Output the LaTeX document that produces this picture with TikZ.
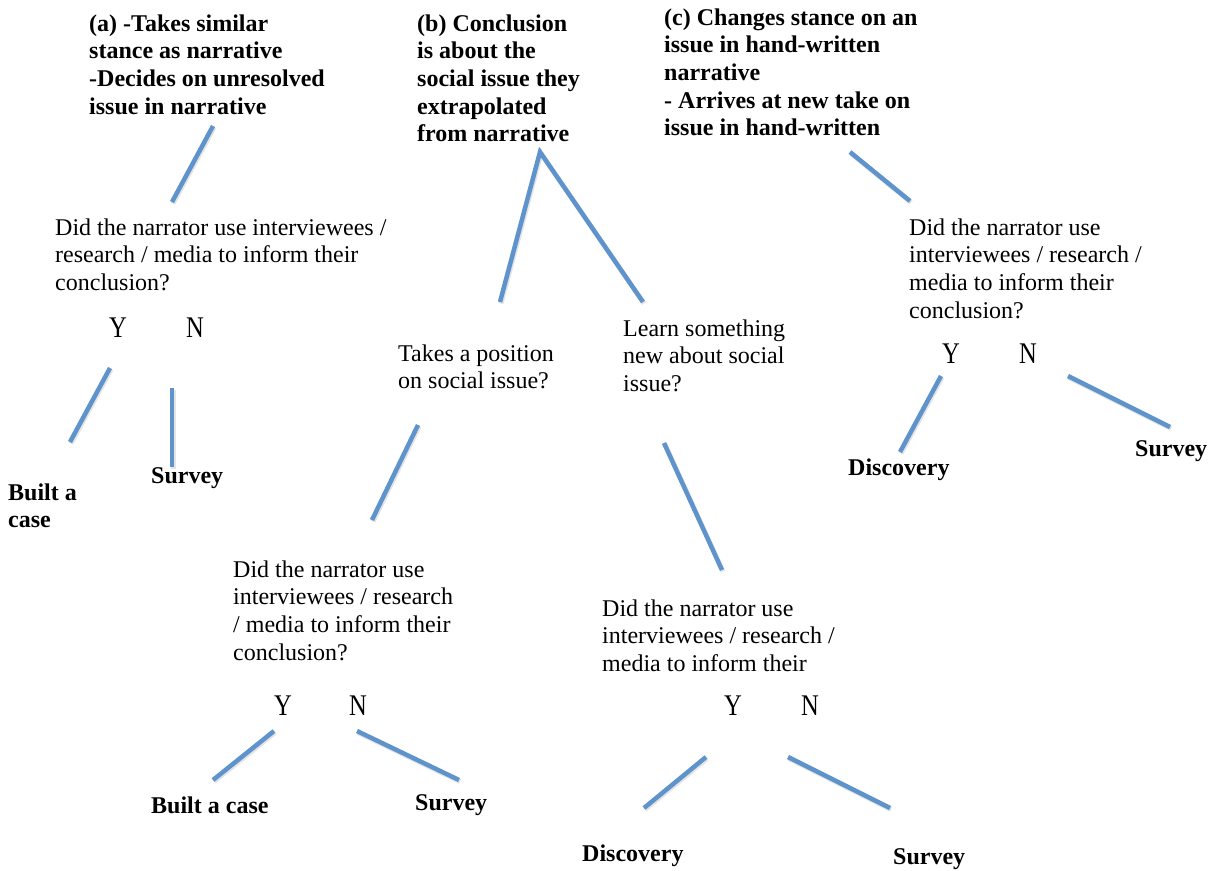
\documentclass[tikz,border=0pt]{standalone}
\usepackage{fontspec}
\usepackage{graphicx}
\setmainfont{Liberation Serif}
\definecolor{lineblue}{RGB}{94,147,204}
\newcommand{\ynletter}[1]{\scalebox{0.82}[1]{#1}}
\tikzset{
  conn/.style={draw=lineblue, line width=4.5pt,
    preaction={draw=black!30, opacity=0.35, line width=5pt,
      transform canvas={shift={(1pt,-1.5pt)}}}},
  q/.style={anchor=north west, inner sep=0pt, align=left, yshift=-2.5pt,
    font=\fontsize{24}{27.6}\selectfont},
  hd/.style={anchor=north west, inner sep=0pt, align=left, yshift=-2.5pt,
    font=\fontsize{24}{27.6}\selectfont\bfseries},
  yn/.style={inner sep=0pt, font=\fontsize{30}{33}\selectfont},
}
\begin{document}
\begin{tikzpicture}[x=1pt,y=-1pt]
\useasboundingbox (0,0) rectangle (1212,870);

% headers
\node[hd] (ha) at (89,12) {(a) -Takes similar\\stance as narrative\\-Decides on unresolved\\issue in narrative};
\node[hd] (hb) at (417,12) {(b) Conclusion\\is about the\\social issue they\\extrapolated\\from narrative};
\node[hd] (hc) at (664,6) {(c) Changes stance on an\\issue in hand-written\\narrative\\- Arrives at new take on\\issue in hand-written};

% left branch
\node[q] (qa) at (55,216) {Did the narrator use interviewees /\\research / media to inform their\\conclusion?};
\node[yn] (ya) at (118,328) {\ynletter{Y}};
\node[yn] (na) at (195,328) {\ynletter{N}};
\node[hd] (la1) at (8,481) {Built a\\case};
\node[hd] (la2) at (151,465) {Survey};

% middle branch
\node[q] (tb) at (398,342) {Takes a position\\on social issue?};
\node[q] (lb) at (623,317) {Learn something\\new about social\\issue?};
\node[q] (qb1) at (233,558) {Did the narrator use\\interviewees / research\\/ media to inform their\\conclusion?};
\node[yn] (yb1) at (283,706) {\ynletter{Y}};
\node[yn] (nb1) at (358,706) {\ynletter{N}};
\node[hd] (lb1) at (151,794) {Built a case};
\node[hd] (lb2) at (415,792) {Survey};
\node[q] (qb2) at (602,597) {Did the narrator use\\interviewees / research /\\media to inform their};
\node[yn] (yb2) at (733,706) {\ynletter{Y}};
\node[yn] (nb2) at (810,706) {\ynletter{N}};
\node[hd] (lb3) at (582,842) {Discovery};
\node[hd] (lb4) at (893,846) {Survey};

% right branch
\node[q] (qc) at (909,216) {Did the narrator use\\interviewees / research /\\media to inform their\\conclusion?};
\node[yn] (yc) at (951,354) {\ynletter{Y}};
\node[yn] (nc) at (1028,354) {\ynletter{N}};
\node[hd] (lc1) at (848,456) {Discovery};
\node[hd] (lc2) at (1135,438) {Survey};

% connector end points
\coordinate (a0) at (213,126);  \coordinate (a1) at (172,202);
\coordinate (ay0) at (110,368); \coordinate (ay1) at (70,442);
\coordinate (an0) at (172,388); \coordinate (an1) at (172,467);
\coordinate (b0) at (540,152);  \coordinate (b1) at (500,302);
\coordinate (b2) at (643,302);
\coordinate (t0) at (418,425);  \coordinate (t1) at (372,520);
\coordinate (by0) at (274,731); \coordinate (by1) at (213,780);
\coordinate (bn0) at (357,731); \coordinate (bn1) at (459,780);
\coordinate (l0) at (664,443);  \coordinate (l1) at (722,570);
\coordinate (cy0) at (706,757); \coordinate (cy1) at (644,808);
\coordinate (cn0) at (788,757); \coordinate (cn1) at (890,808);
\coordinate (c0) at (850,152);  \coordinate (c1) at (910,201);
\coordinate (ry0) at (941,376); \coordinate (ry1) at (900,452);
\coordinate (rn0) at (1068,376); \coordinate (rn1) at (1170,427);

\draw[conn] (a0) -- (a1);
\draw[conn] (ay0) -- (ay1);
\draw[conn] (an0) -- (an1);
\draw[conn] (b1) -- (b0) -- (b2);
\draw[conn] (t0) -- (t1);
\draw[conn] (by0) -- (by1);
\draw[conn] (bn0) -- (bn1);
\draw[conn] (l0) -- (l1);
\draw[conn] (cy0) -- (cy1);
\draw[conn] (cn0) -- (cn1);
\draw[conn] (c0) -- (c1);
\draw[conn] (ry0) -- (ry1);
\draw[conn] (rn0) -- (rn1);
\end{tikzpicture}
\end{document}
